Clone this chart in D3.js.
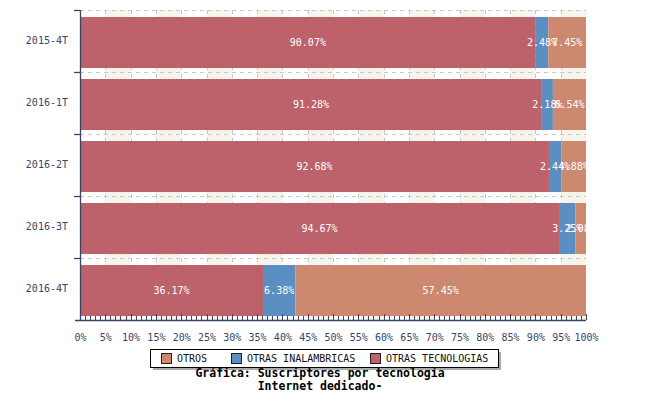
<!DOCTYPE html>
<html>
<head>
<meta charset="utf-8">
<script src="https://cdn.jsdelivr.net/npm/d3@7/dist/d3.min.js"></script>
<style>
html,body{margin:0;padding:0;background:#fff;}
svg{display:block;}
</style>
</head>
<body>
<svg id="chart" width="650" height="400"></svg>
<script>
const categories = ["2015-4T","2016-1T","2016-2T","2016-3T","2016-4T"];
const otrasTecnologias = [90.07, 91.28, 92.68, 94.67, 36.17];
const otrasInalambricas = [2.48, 2.18, 2.44, 3.25, 6.38];
const otros = [7.45, 6.54, 4.88, 2.08, 57.45];
const seriesNames = ["OTRAS TECNOLOGIAS","OTRAS INALAMBRICAS","OTROS"];
const legendOrder = ["OTROS","OTRAS INALAMBRICAS","OTRAS TECNOLOGIAS"];
const xTicks = d3.range(0, 101, 5);
const titleLines = ["Gráfica: Suscriptores por tecnología","Internet dedicado-"];

const colors = {"OTRAS TECNOLOGIAS":"#bd616b","OTRAS INALAMBRICAS":"#5b8ec1","OTROS":"#cd8870"};
const axisColor = "#3a4566";
const font = "'DejaVu Sans Mono', monospace";

const svg = d3.select("#chart");
const L = 80, R = 586, T = 10, B = 320;

const x = d3.scaleLinear().domain([0,100]).range([L,R]);
const y = d3.scaleBand().domain(categories).range([T,B]).paddingInner(0).paddingOuter(0);
const step = y.step();

// background alternating bands
const bands = d3.range(5, 100, 10);
svg.append("g").selectAll("rect").data(bands).join("rect")
  .attr("x", d => x(d)).attr("width", d => x(d+5)-x(d))
  .attr("y", T).attr("height", B-T)
  .attr("fill", "#f5f5ee");

// vertical dashed grid
svg.append("g").selectAll("line").data(xTicks.filter(d=>d>0&&d<100)).join("line")
  .attr("x1", d=>Math.round(x(d))+0.5).attr("x2", d=>Math.round(x(d))+0.5)
  .attr("y1", T).attr("y2", B)
  .attr("stroke", "#c8c8c8").attr("stroke-dasharray","4,4");

// horizontal dashed grid at band boundaries
svg.append("g").selectAll("line").data(categories).join("line")
  .attr("x1", L).attr("x2", R)
  .attr("y1", d=>Math.round(y(d))+0.5).attr("y2", d=>Math.round(y(d))+0.5)
  .attr("stroke", "#c8c8c8").attr("stroke-dasharray","4,4");

// stacked data
const rows = categories.map((c,i)=>({cat:c, "OTRAS TECNOLOGIAS":otrasTecnologias[i], "OTRAS INALAMBRICAS":otrasInalambricas[i], "OTROS":otros[i]}));
const stack = d3.stack().keys(seriesNames)(rows);

const barTop = step*0.113, barH = step*0.823;

const g = svg.append("g");
stack.forEach(s => {
  g.append("g").attr("fill", colors[s.key]).selectAll("rect").data(s).join("rect")
    .attr("x", d=>x(d[0])).attr("width", d=>x(d[1])-x(d[0]))
    .attr("y", d=>y(d.data.cat)+barTop).attr("height", barH);
});
stack.forEach(s => {
  g.append("g").selectAll("text").data(s).join("text")
    .attr("x", d=>(x(d[0])+x(d[1]))/2)
    .attr("y", d=>y(d.data.cat)+barTop+barH/2)
    .attr("dy","0.35em")
    .attr("text-anchor","middle")
    .attr("fill","#fff")
    .attr("font-family", font).attr("font-size","10px")
    .text(d=>(d[1]-d[0]).toFixed(2)+"%");
});

// left axis
const yAxis = d3.axisLeft(y).tickSize(0).tickPadding(12);
const ya = svg.append("g").attr("transform",`translate(${L},0)`).call(yAxis);
ya.select(".domain").remove();
ya.selectAll("text").attr("font-family",font).attr("font-size","10px").attr("fill",axisColor);
svg.append("line").attr("x1",L+0.5).attr("x2",L+0.5).attr("y1",T).attr("y2",B)
  .attr("stroke",axisColor).attr("stroke-width",1.3);
svg.append("g").selectAll("line").data(categories).join("line")
  .attr("x1",L-6).attr("x2",L)
  .attr("y1",d=>Math.round(y(d))+0.5).attr("y2",d=>Math.round(y(d))+0.5)
  .attr("stroke",axisColor).attr("stroke-width",1.3);

// bottom axis
svg.append("line").attr("x1",L-5).attr("x2",R).attr("y1",B+0.5).attr("y2",B+0.5)
  .attr("stroke",axisColor).attr("stroke-width",1.3);
const minor = d3.range(0,101,1);
svg.append("g").selectAll("line").data(minor).join("line")
  .attr("x1",d=>Math.round(x(d))+0.5).attr("x2",d=>Math.round(x(d))+0.5)
  .attr("y1",B).attr("y2",d=>d%5===0?B-6:B-4)
  .attr("stroke",axisColor).attr("stroke-width",1);
const xAxis = d3.axisBottom(x).tickValues(xTicks).tickSize(0).tickPadding(14).tickFormat(d=>d+"%");
const xa = svg.append("g").attr("transform",`translate(0,${B})`).call(xAxis);
xa.select(".domain").remove();
xa.selectAll("text").attr("font-family",font).attr("font-size","10px").attr("fill",axisColor);

// legend
const lg = svg.append("g");
const lx = 150, ly = 349, lw = 348, lh = 18;
lg.append("rect").attr("x",lx+3).attr("y",ly+3).attr("width",lw).attr("height",lh).attr("fill","#aaaaaa");
lg.append("rect").attr("x",lx+0.5).attr("y",ly+0.5).attr("width",lw).attr("height",lh).attr("fill","#fff").attr("stroke","#000").attr("stroke-width",1);
const legX = [161, 231, 370];
legendOrder.forEach((k,i)=>{
  lg.append("rect").attr("x",legX[i]+0.5).attr("y",ly+4.5).attr("width",10).attr("height",10)
    .attr("fill",colors[k]).attr("stroke","#222").attr("stroke-width",1);
  lg.append("text").attr("x",legX[i]+16).attr("y",ly+9.5).attr("dy","0.35em")
    .attr("font-family",font).attr("font-size","10px").attr("fill","#111").text(k);
});

// title
svg.append("g").selectAll("text").data(titleLines).join("text")
  .attr("x",320).attr("y",(d,i)=>377+i*13)
  .attr("text-anchor","middle")
  .attr("font-family",font).attr("font-weight","bold").attr("font-size","11.5px").attr("fill","#000")
  .text(d=>d);
</script>
</body>
</html>
